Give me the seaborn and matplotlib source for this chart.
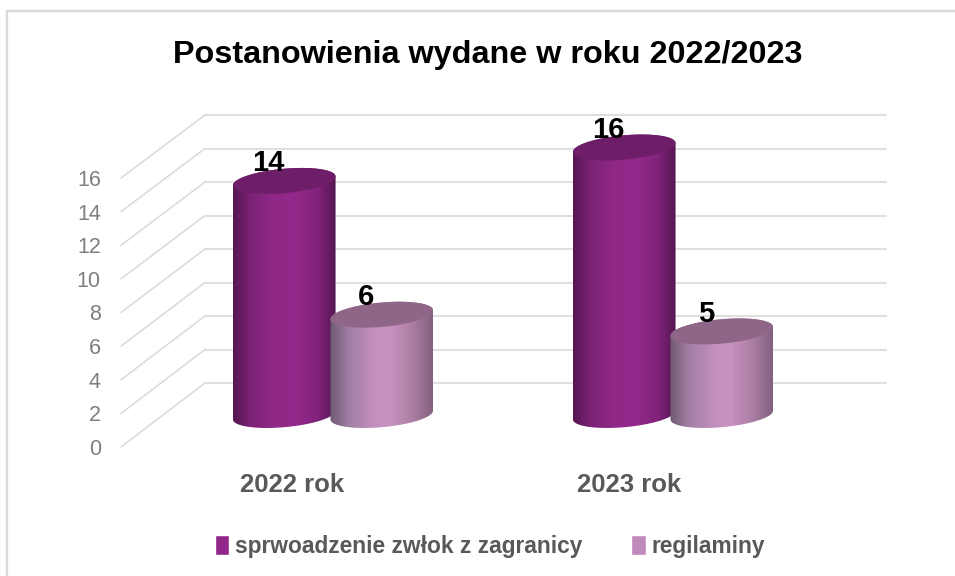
import numpy as np
import pandas as pd
import seaborn as sns
import matplotlib
matplotlib.use("Agg")
import matplotlib.pyplot as plt
from matplotlib.colors import LinearSegmentedColormap
from matplotlib.lines import Line2D
from matplotlib.patches import ConnectionPatch, Polygon, Patch

categories = ["2022 rok", "2023 rok"]
series_names = ["sprwoadzenie zwłok z zagranicy", "regilaminy"]
sprowadzenie = [14, 16]
regilaminy = [6, 5]
y_ticks = list(range(0, 17, 2))

title = "Postanowienia wydane w roku 2022/2023"
main_color = "#91278a"
second_color = "#c08abb"
grid_color = "#e0e0e0"

W, H = 955, 576
sns.set_theme(style="white")
plt.rcParams["font.family"] = ["Liberation Sans", "DejaVu Sans"]

fig = plt.figure(figsize=(W / 100, H / 100), dpi=100, facecolor="white")


def px_axes(x0, y0, x1, y1, **kw):
    """Axes from pixel box (y measured from the top of the image)."""
    return fig.add_axes([x0 / W, 1 - y1 / H, (x1 - x0) / W, (y1 - y0) / H], **kw)


# back wall with gridlines
back = px_axes(205, 115, 886, 383)
back.set_ylim(0, 16)
back.set_xlim(0, 1)
back.set_yticks(y_ticks)
back.set_xticks([])
back.set_yticklabels([])
back.grid(axis="y", color=grid_color, lw=1.5, clip_on=False)
for gl in back.get_ygridlines():
    gl.set_clip_on(False)
back.tick_params(length=0)
sns.despine(ax=back, left=True, bottom=True)
back.patch.set_alpha(0)

# front axis: value labels and category labels
front = px_axes(121, 178, 801, 447)
front.set_ylim(0, 16)
front.set_xlim(-(292 - 121) / 337, (801 - 292) / 337)
front.set_yticks(y_ticks)
front.set_yticklabels([str(v) for v in y_ticks], fontsize=15.5, color="#7f7f7f")
front.set_xticks(range(len(categories)))
front.set_xticklabels(categories, fontsize=18.5, fontweight="bold", color="#595959")
front.tick_params(axis="y", length=0, pad=14.5)
front.tick_params(axis="x", length=0, pad=19)
sns.despine(ax=front, left=True, bottom=True)
front.patch.set_alpha(0)

# floor / side wall diagonals
for v in y_ticks:
    fig.add_artist(ConnectionPatch(xyA=(0, v), coordsA=front.get_yaxis_transform(),
                                   xyB=(0, v), coordsB=back.get_yaxis_transform(),
                                   color="#dcdcdc", lw=1.2))

# bars
YS = 16.72  # px per value
XS = 340.0  # px per category
main = px_axes(163, 415 - 18 * YS, 843, 415 + 2 * YS)
main.patch.set_alpha(0)

df = pd.DataFrame({
    "cat": categories * 2,
    "series": [series_names[0]] * 2 + [series_names[1]] * 2,
    "value": sprowadzenie + regilaminy,
})
sns.barplot(data=df, x="cat", y="value", hue="series", ax=main, width=0.5735, gap=0,
            palette=[main_color, second_color], saturation=1, legend=False)
main.set_xlim(-0.5, 1.5)
main.set_ylim(-2, 18)
main.axis("off")

grad_main = LinearSegmentedColormap.from_list("m", [
    (0, "#561750"), (0.18, "#7c2277"), (0.4, "#912888"), (0.62, "#93298a"),
    (0.82, "#82237c"), (1, "#551650")])
grad_second = LinearSegmentedColormap.from_list("s", [
    (0, "#6f5a72"), (0.18, "#a07ea3"), (0.42, "#c38fbd"), (0.58, "#c893c1"),
    (0.82, "#a97ca2"), (1, "#82607e")])
styles = [(grad_main, "#6e1e68"), (grad_second, "#8f6688")]

A, K, B = 51.3, 4.4, 12.2  # ellipse half width, tilt, half height (px)
t = np.linspace(0, 2 * np.pi, 181)


def ellipse(cx, v, tt):
    return np.column_stack([cx + A * np.cos(tt) / XS,
                            v + (K * np.cos(tt) - B * np.sin(tt)) / YS])


for i, container in enumerate(main.containers):
    cmap, top_color = styles[i]
    for bar in container:
        cx = bar.get_x() + bar.get_width() / 2
        v = bar.get_height()
        z = 3 + i
        # visible outline: lower half of the base, then the top's far edge
        base = ellipse(cx, 0, np.linspace(np.pi, 0, 91))
        top = ellipse(cx, v, np.linspace(0, -np.pi, 91))
        outline = Polygon(np.vstack([base, top]), closed=True, transform=main.transData,
                          fc="none", ec="none")
        main.add_patch(outline)
        bar.set_zorder(z)
        bar.set_clip_path(outline)
        im = main.imshow(np.linspace(0, 1, 256).reshape(1, -1), cmap=cmap, aspect="auto",
                         extent=(cx - A / XS, cx + A / XS, -2, 18), zorder=z, vmin=0, vmax=1)
        im.set_clip_path(outline)
        main.add_patch(Polygon(ellipse(cx, v, t), closed=True, fc=top_color, ec="none",
                               zorder=z + 0.1))
        main.annotate(str(int(v)), (cx, v), xytext=(-15.5 * 0.72, 17.5 * 0.72),
                      textcoords="offset points", ha="center", va="center",
                      fontsize=21, fontweight="bold", color="black", zorder=10,
                      annotation_clip=False)
main.set_xlim(-0.5, 1.5)
main.set_ylim(-2, 18)

# title
fig.text(488 / W, 1 - 55 / H, title, ha="center", va="center", fontsize=23.3,
         fontweight="bold", color="black")

# legend
handles = [Patch(fc=main_color, label=series_names[0]), Patch(fc=second_color, label=series_names[1])]
fig.legend(handles=handles, loc="center", bbox_to_anchor=(490 / W, 1 - 546.5 / H), ncol=2,
           frameon=False, prop={"size": 16.4, "weight": "bold"}, labelcolor="#595959",
           handlelength=0.62, handleheight=0.96, handletextpad=0.28, columnspacing=2.15)

# chart frame
fig.add_artist(Line2D([7 / W, 7 / W], [0, 1 - 10.5 / H], color="#d9d9d9", lw=1.7))
fig.add_artist(Line2D([7 / W, 1], [1 - 10.5 / H, 1 - 10.5 / H], color="#d9d9d9", lw=1.7))

fig.savefig("out.png", dpi=100, facecolor="white")
